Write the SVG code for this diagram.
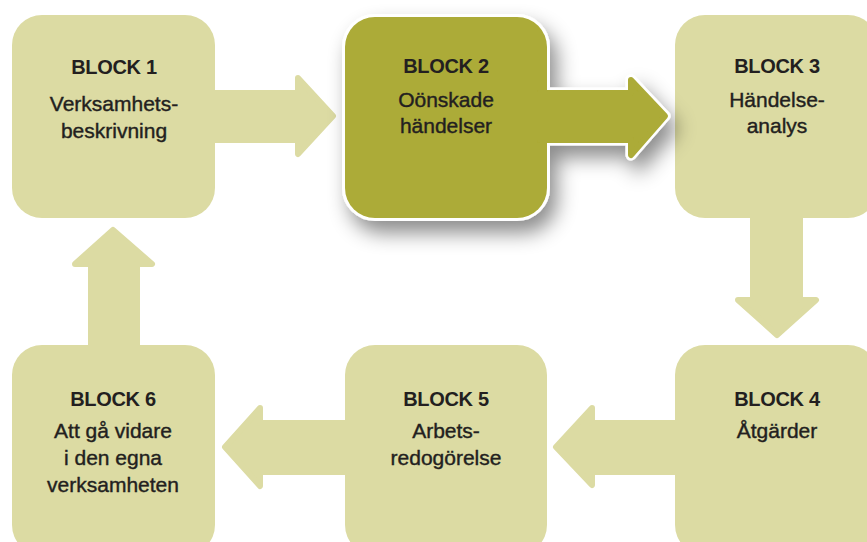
<svg xmlns="http://www.w3.org/2000/svg" width="867" height="542" viewBox="0 0 867 542">
  <defs>
    <filter id="shadow" x="-25%" y="-25%" width="160%" height="170%">
      <feDropShadow dx="7" dy="12" stdDeviation="10" flood-color="#000" flood-opacity="0.45"/>
    </filter>
    <style>
      .light { fill: #dcdba3; }
      .larr { fill: #dcdba3; stroke: #dcdba3; stroke-width: 6; stroke-linejoin: round; }
      .dark { fill: #acab37; }
      .darr { fill: #acab37; stroke: #acab37; stroke-width: 6; stroke-linejoin: round; }
      .wedge { fill: #ffffff; stroke: #ffffff; stroke-width: 11; stroke-linejoin: round; }
      .wrect { fill: #ffffff; stroke: #ffffff; stroke-width: 6; }
      .t { font-family: "Liberation Sans", Arial, sans-serif; fill: #231f20; text-anchor: middle; }
      .h { font-size: 20px; font-weight: bold; letter-spacing: -0.3px; }
      .l { font-size: 21px; stroke: #231f20; stroke-width: 0.4px; }
    </style>
  </defs>
  <rect width="867" height="542" fill="#ffffff"/>

  <g id="connectors">
    <polygon class="larr" points="210,93 298,93 298,78 333,116 298,154 298,140 210,140"/>
    <polygon class="larr" points="753,210 753,300 738,300 777,335 816,300 800,300 800,210"/>
    <polygon class="larr" points="680,423 592,423 592,408 556,447 592,485 592,472 680,472"/>
    <polygon class="larr" points="350,423 260,423 260,408 225,447 260,486 260,472 350,472"/>
    <polygon class="larr" points="91,350 91,264 75,264 113,230 152,264 137,264 137,350"/>
  </g>

  <g id="block1">
    <rect class="light" x="12" y="15" width="203" height="203" rx="30"/>
    <text class="t h" x="114" y="74">BLOCK 1</text>
    <text class="t l" x="114" y="111">Verksamhets-</text>
    <text class="t l" x="114" y="138">beskrivning</text>
  </g>

  <g id="block3">
    <rect class="light" x="675" y="15" width="203" height="203" rx="30"/>
    <text class="t h" x="777" y="73">BLOCK 3</text>
    <text class="t l" x="777" y="107">Händelse-</text>
    <text class="t l" x="777" y="133">analys</text>
  </g>

  <g id="block4">
    <rect class="light" x="675" y="345" width="203" height="210" rx="30"/>
    <text class="t h" x="777" y="406">BLOCK 4</text>
    <text class="t l" x="777" y="438">Åtgärder</text>
  </g>

  <g id="block5">
    <rect class="light" x="345" y="345" width="202" height="210" rx="30"/>
    <text class="t h" x="446" y="406">BLOCK 5</text>
    <text class="t l" x="446" y="438">Arbets-</text>
    <text class="t l" x="446" y="465">redogörelse</text>
  </g>

  <g id="block6">
    <rect class="light" x="12" y="345" width="203" height="210" rx="30"/>
    <text class="t h" x="113" y="406">BLOCK 6</text>
    <text class="t l" x="113" y="438">Att gå vidare</text>
    <text class="t l" x="113" y="465">i den egna</text>
    <text class="t l" x="113" y="492">verksamheten</text>
  </g>

  <g id="block2">
    <g filter="url(#shadow)">
      <rect class="wrect" x="345" y="17" width="202" height="201" rx="30"/>
      <polygon class="wedge" points="540,93 631,93 631,80 665,116 631,155 631,140 540,140"/>
      <rect class="dark" x="345" y="17" width="202" height="201" rx="30"/>
      <polygon class="darr" points="540,93 631,93 631,80 665,116 631,155 631,140 540,140"/>
    </g>
    <text class="t h" x="446" y="73">BLOCK 2</text>
    <text class="t l" x="446" y="107">Oönskade</text>
    <text class="t l" x="446" y="133">händelser</text>
  </g>
</svg>
